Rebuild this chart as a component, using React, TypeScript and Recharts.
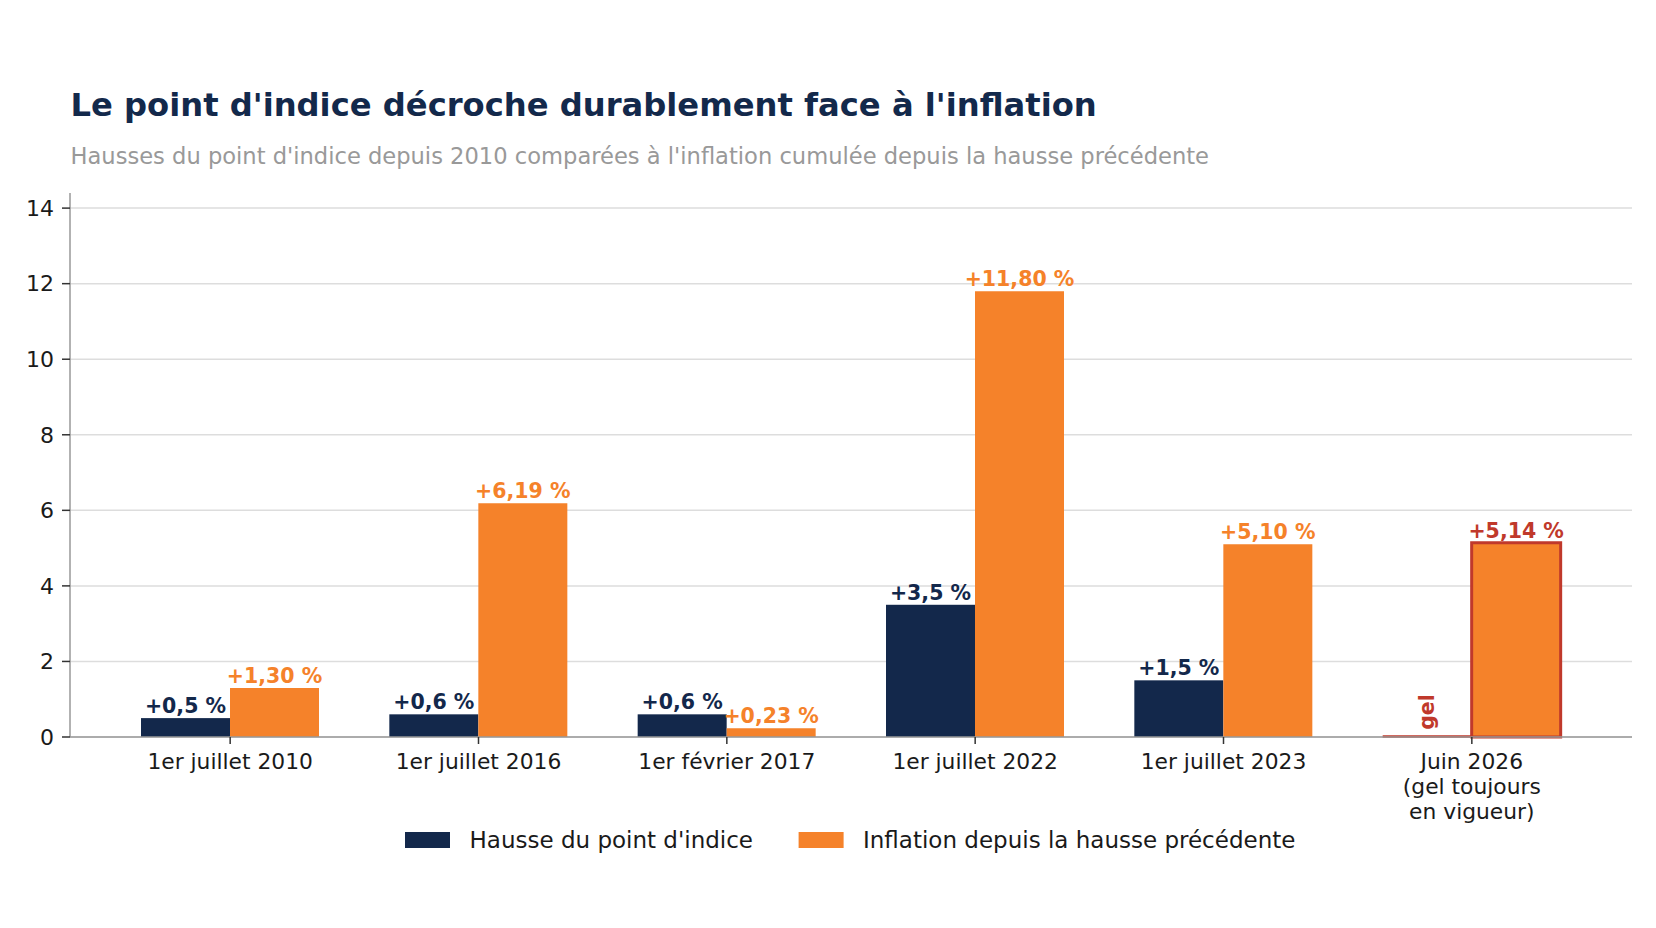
import React from 'react';
import { BarChart, Bar, XAxis, YAxis, CartesianGrid, Cell, LabelList } from 'recharts';

// catégories et valeurs
const categories = [
  '1er juillet 2010',
  '1er juillet 2016',
  '1er février 2017',
  '1er juillet 2022',
  '1er juillet 2023',
  'Juin 2026\n(gel toujours\nen vigueur)',
];
const hausse = [0.5, 0.6, 0.6, 3.5, 1.5, 0];
const inflation = [1.3, 6.19, 0.23, 11.8, 5.1, 5.14];
const gel = [false, false, false, false, false, true];
const yTicks = [0, 2, 4, 6, 8, 10, 12, 14];

const seriesNames = ["Hausse du point d'indice", 'Inflation depuis la hausse précédente'];

const NAVY = '#13284b';
const ORANGE = '#f5822a';
const RED = '#c0392b';
const FONT = '"DejaVu Sans", sans-serif';

const W = 1640;
const H = 900;

const data = categories.map((cat, i) => ({
  cat,
  hausse: hausse[i],
  inflation: inflation[i],
  gel: gel[i],
}));

const fmt = (v: number, d: number) => `+${v.toFixed(d).replace('.', ',')} %`;

// barre "gel" : simple trait rouge sur la ligne de base
const NavyShape = (props: any) => {
  const { x, y, width, height, index } = props;
  if (gel[index]) {
    const base = y + height - 0.5;
    return <line x1={x} x2={x + width} y1={base} y2={base} stroke={RED} strokeWidth={2.5} />;
  }
  return <rect x={x} y={y} width={width} height={height} fill={NAVY} />;
};

const NavyLabel = (props: any) => {
  const { x, y, width, height, index } = props;
  const cx = x + width / 2;
  if (gel[index]) {
    const cy = y + height - 25;
    return (
      <text
        x={cx}
        y={cy}
        transform={`rotate(-90 ${cx} ${cy})`}
        textAnchor="middle"
        dominantBaseline="central"
        fill={RED}
        fontSize={20.5}
        fontWeight="bold"
        fontFamily={FONT}
      >
        gel
      </text>
    );
  }
  return (
    <text x={cx} y={y - 5} textAnchor="middle" fill={NAVY} fontSize={20.5} fontWeight="bold" fontFamily={FONT}>
      {fmt(hausse[index], 1)}
    </text>
  );
};

const OrangeLabel = (props: any) => {
  const { x, y, width, index } = props;
  return (
    <text
      x={x + width / 2}
      y={y - 5}
      textAnchor="middle"
      fill={gel[index] ? RED : ORANGE}
      fontSize={20.5}
      fontWeight="bold"
      fontFamily={FONT}
    >
      {fmt(inflation[index], 2)}
    </text>
  );
};

const XTick = (props: any) => {
  const { x, y, payload } = props;
  const lines = String(payload.value).split('\n');
  return (
    <text x={x} y={y} textAnchor="middle" fill="#1a1a1a" fontSize={21.8} fontFamily={FONT}>
      {lines.map((l, i) => (
        <tspan key={i} x={x} dy={i === 0 ? 23 : 25}>
          {l}
        </tspan>
      ))}
    </text>
  );
};

export default function App() {
  return (
    <div style={{ position: 'relative', width: W, height: H, background: '#fff' }}>
      <BarChart
        width={W}
        height={H}
        data={data}
        margin={{ top: 185, right: 16, bottom: 111, left: 0 }}
        barCategoryGap={35}
        barGap={0}
      >
        <CartesianGrid horizontal vertical={false} syncWithTicks stroke="#dddddd" strokeWidth={1.5} />
        <XAxis
          dataKey="cat"
          interval={0}
          height={60}
          padding={{ left: 36, right: 36 }}
          stroke="#999999"
          strokeWidth={1.5}
          tickLine={{ stroke: '#333333' }}
          tickSize={7}
          tickMargin={2}
          tick={<XTick />}
        />
        <YAxis
          width={62}
          domain={[0, 14.4]}
          ticks={yTicks}
          stroke="#999999"
          strokeWidth={1.5}
          tickLine={{ stroke: '#333333' }}
          tickSize={8}
          tickMargin={8}
          tick={{ fill: '#1a1a1a', fontSize: 22, fontFamily: FONT }}
        />
        <Bar dataKey="hausse" name={seriesNames[0]} fill={NAVY} shape={<NavyShape />} isAnimationActive={false}>
          <LabelList dataKey="hausse" content={<NavyLabel />} />
        </Bar>
        <Bar dataKey="inflation" name={seriesNames[1]} fill={ORANGE} isAnimationActive={false}>
          {data.map((d, i) => (
            <Cell key={i} fill={ORANGE} stroke={d.gel ? RED : 'none'} strokeWidth={d.gel ? 3 : 0} />
          ))}
          <LabelList dataKey="inflation" content={<OrangeLabel />} />
        </Bar>
      </BarChart>
      <svg width={W} height={H} style={{ position: 'absolute', left: 0, top: 0, pointerEvents: 'none' }}>
        <text x={62.5} y={108} fill="#13294b" fontSize={32.2} fontWeight="bold" fontFamily={FONT}>
          Le point d'indice décroche durablement face à l'inflation
        </text>
        <text x={62.5} y={156} fill="#999999" fontSize={22.6} fontFamily={FONT}>
          Hausses du point d'indice depuis 2010 comparées à l'inflation cumulée depuis la hausse précédente
        </text>
        <rect x={397} y={824} width={45} height={16} fill={NAVY} />
        <text x={461.5} y={840} fill="#1a1a1a" fontSize={23} fontFamily={FONT}>
          {seriesNames[0]}
        </text>
        <rect x={790.6} y={824} width={45} height={16} fill={ORANGE} />
        <text x={855} y={840} fill="#1a1a1a" fontSize={23} fontFamily={FONT}>
          {seriesNames[1]}
        </text>
      </svg>
    </div>
  );
}
